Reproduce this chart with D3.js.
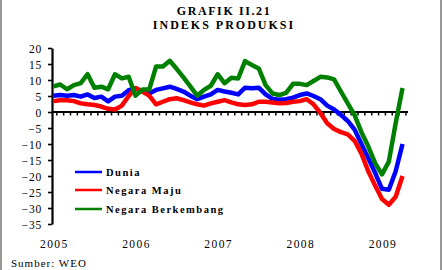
<!DOCTYPE html>
<meta charset="utf-8">
<html>
  <head>
    <script src="https://d3js.org/d3.v7.min.js"></script>
    <style>
      body { margin: 0; background: #fff; }
      text { font-family: "Liberation Serif", "Times New Roman", serif; fill: #000; }
    </style>
  </head>
  <body>
    <script>
      // monthly categories Jan 2005 - Apr 2009
      var months = d3.timeMonth.range(new Date(2005, 0, 1), new Date(2009, 4, 1));
      var yearLabels = ["2005", "2006", "2007", "2008", "2009"];
      var yTicks = [20, 15, 10, 5, 0, -5, -10, -15, -20, -25, -30, -35];

      var dunia = [5.1, 5.3, 5.1, 5.3, 4.8, 5.5, 4.4, 4.8, 3.3, 4.8, 5.1, 6.8,
                   7.4, 6.4, 5.8, 6.9, 7.4, 7.9, 7.2, 6.4, 5.1, 4.0, 4.8, 5.5,
                   6.9, 6.4, 6.0, 5.5, 7.6, 7.4, 7.6, 5.5, 4.1, 3.8, 4.0, 4.5,
                   5.3, 5.8, 5.0, 4.0, 2.0, 0.8, -0.9, -2.8, -5.5, -10, -14.5, -19,
                   -24, -24.3, -18.5, -10];
      var negaraMaju = [3.4, 3.7, 3.7, 3.4, 2.7, 2.4, 2.2, 1.7, 1.0, 0.8, 2.0, 5.0,
                        7.5, 6.4, 5.1, 2.4, 3.2, 4.0, 4.3, 3.7, 3.0, 2.4, 2.0, 2.7,
                        3.2, 3.7, 3.0, 2.4, 2.2, 2.4, 3.2, 3.2, 3.0, 2.7, 2.8, 3.2,
                        3.4, 4.0, 2.4, -0.3, -3.5, -5.3, -6.3, -7.0, -9.0, -13, -18.5, -23,
                        -27.2, -29, -26.5, -20];
      var negaraBerkembang = [8.0, 8.6, 7.1, 8.4, 9.0, 11.8, 7.6, 7.9, 7.1, 11.8, 10.5, 11.0,
                              5.1, 7.0, 7.0, 14.2, 14.2, 16.0, 13.5, 10.8, 8.0, 5.1, 6.9, 8.2,
                              11.8, 9.0, 10.7, 10.5, 15.9, 14.7, 13.6, 8.4, 5.8, 5.3, 6.0, 8.8,
                              8.8, 8.4, 9.7, 11.0, 10.8, 10.2, 6.4, 2.7, -1.0, -6.3, -10.8, -16,
                              -19.5, -15.5, -3.5, 7.5];

      var series = [
        {name: "Dunia", values: dunia, color: "#0000ff"},
        {name: "Negara Maju", values: negaraMaju, color: "#ff0000"},
        {name: "Negara Berkembang", values: negaraBerkembang, color: "#008000"}
      ];

      var width = 444, height = 270;
      var svg = d3.select("body").append("svg")
          .attr("width", width)
          .attr("height", height);

      // frame edges
      svg.append("line").attr("x1", 1).attr("x2", 1).attr("y1", 0).attr("y2", height)
         .attr("stroke", "#999").attr("stroke-width", 2);
      svg.append("line").attr("x1", 441).attr("x2", 441).attr("y1", 0).attr("y2", height)
         .attr("stroke", "#999").attr("stroke-width", 2);

      // title
      svg.append("text").attr("x", 224).attr("y", 15).attr("text-anchor", "middle")
         .style("font-size", "12px").style("font-weight", "bold").style("letter-spacing", "1.6px")
         .text("GRAFIK II.21");
      svg.append("text").attr("x", 224).attr("y", 29).attr("text-anchor", "middle")
         .style("font-size", "12px").style("font-weight", "bold").style("letter-spacing", "2px")
         .text("INDEKS PRODUKSI");

      // scales
      var x = d3.scaleLinear().domain([-0.2, 51.8]).range([52, 408]);
      var y = d3.scaleLinear().domain([-35, 20]).range([224, 48]);

      // y axis
      var yAxis = svg.append("g").attr("transform", "translate(52,0)")
          .call(d3.axisLeft(y).tickValues(yTicks).tickSize(4).tickSizeOuter(0).tickPadding(6));
      yAxis.select(".domain").attr("stroke", "#000").attr("stroke-width", 2.2);
      yAxis.selectAll(".tick line").attr("stroke", "#000").attr("stroke-width", 1.6);
      yAxis.selectAll(".tick text")
          .style("font-family", "Liberation Serif, serif")
          .style("font-size", "11.5px")
          .style("letter-spacing", "0.8px")
          .attr("dy", "0.36em");

      // zero line with monthly ticks
      var zero = svg.append("g");
      zero.append("line").attr("x1", x.range()[0]).attr("x2", x.range()[1])
          .attr("y1", y(0)).attr("y2", y(0)).attr("stroke", "#000").attr("stroke-width", 2);
      zero.selectAll(".mt").data(d3.range(0, 52)).enter().append("line")
          .attr("x1", function(d) { return x(d + 0.5); })
          .attr("x2", function(d) { return x(d + 0.5); })
          .attr("y1", y(0)).attr("y2", y(0) + 3.5)
          .attr("stroke", "#000").attr("stroke-width", 1.5);

      // year labels
      svg.selectAll(".yr").data(yearLabels).enter().append("text")
         .attr("x", function(d, i) { return x(i * 12) + 1; })
         .attr("y", 248)
         .attr("text-anchor", "middle")
         .style("font-size", "11.5px").style("letter-spacing", "1.4px")
         .text(function(d) { return d; });

      // lines
      var line = d3.line()
          .x(function(d, i) { return x(i); })
          .y(function(d) { return y(d); });

      series.forEach(function(s) {
        svg.append("path").datum(s.values)
           .attr("fill", "none")
           .attr("stroke", s.color)
           .attr("stroke-width", 4.5)
           .attr("stroke-linejoin", "round")
           .attr("d", line);
      });

      // legend
      var legendY = [172, 190, 209];
      series.forEach(function(s, i) {
        svg.append("line").attr("x1", 75).attr("x2", 102)
           .attr("y1", legendY[i]).attr("y2", legendY[i])
           .attr("stroke", s.color).attr("stroke-width", 2.5);
        svg.append("text").attr("x", 106).attr("y", legendY[i] + 3.5)
           .style("font-size", "10.5px").style("font-weight", "bold").style("letter-spacing", "1.5px")
           .text(s.name);
      });

      // source
      svg.append("text").attr("x", 11).attr("y", 267)
         .style("font-size", "11px").style("letter-spacing", "1px")
         .text("Sumber: WEO");
    </script>
  </body>
</html>
